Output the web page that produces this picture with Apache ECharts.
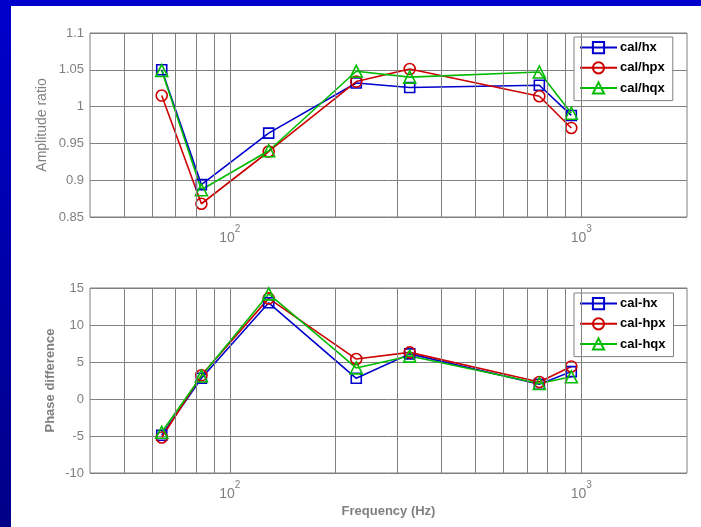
<!DOCTYPE html>
<html>
<head>
<meta charset="utf-8">
<script src="https://cdn.jsdelivr.net/npm/echarts@6/dist/echarts.min.js"></script>
<style>
html,body{margin:0;padding:0;background:#fff;}
#c{width:701px;height:527px;}
</style>
</head>
<body>
<div id="c"></div>
<script>
// ---- data ----
var freq = [64, 83, 129, 229, 325, 760, 937];
var ampNames = ['cal/hx', 'cal/hpx', 'cal/hqx'];
var phaseNames = ['cal-hx', 'cal-hpx', 'cal-hqx'];
var ampHx  = [1.050, 0.894, 0.964, 1.032, 1.026, 1.029, 0.988];
var ampHpx = [1.015, 0.868, 0.939, 1.034, 1.051, 1.014, 0.971];
var ampHqx = [1.049, 0.887, 0.940, 1.048, 1.040, 1.047, 0.991];
var phHx  = [-4.9, 2.8, 13.0, 2.8, 6.1, 2.0, 3.7];
var phHpx = [-5.2, 3.2, 13.6, 5.4, 6.3, 2.3, 4.4];
var phHqx = [-4.5, 3.1, 14.2, 4.2, 5.8, 2.1, 3.0];
var xGridTicks = [50, 60, 70, 80, 90, 100, 200, 300, 400, 500, 600, 700, 800, 900, 1000];
var ampTicks = {min: 0.85, max: 1.1, interval: 0.05};
var phTicks = {min: -10, max: 15, interval: 5};

var colors = ['#0000cc', '#cc0000', '#00bb00'];
var symbols = ['rect', 'circle', 'triangle'];
var symSizes = [10, 11, 12];
var GRAY = '#808080';
var FONT = '"Liberation Sans", Arial, sans-serif';

function pairs(xs, ys) { return xs.map(function (x, i) { return [x, ys[i]]; }); }

function gridMarkLine() {
  return {
    silent: true, symbol: 'none', animation: false,
    label: {show: false},
    lineStyle: {color: GRAY, width: 1, type: 'solid'},
    data: xGridTicks.map(function (v) { return {xAxis: v}; })
  };
}

function mkSeries(name, ys, k, axisIdx, withGrid) {
  var s = {
    name: name, type: 'line', xAxisIndex: axisIdx, yAxisIndex: axisIdx,
    data: pairs(freq, ys),
    symbol: symbols[k], symbolSize: symSizes[k], showSymbol: true,
    lineStyle: {color: colors[k], width: 1.6},
    itemStyle: {color: 'rgba(255,255,255,0)', borderColor: colors[k], borderWidth: 1.6},
    animation: false, z: 3
  };
  if (withGrid) s.markLine = gridMarkLine();
  return s;
}

function xAxisDef(idx) {
  return {
    type: 'log', logBase: 10, gridIndex: idx, min: 40, max: 2000,
    axisLine: {show: false}, axisTick: {show: false}, splitLine: {show: false},
    axisLabel: {
      margin: 7, color: GRAY, fontFamily: FONT,
      formatter: function (v) {
        var e = Math.log10(v);
        if (Math.abs(e - Math.round(e)) < 1e-6) return '{b|10}{s|' + Math.round(e) + '}';
        return '';
      },
      rich: {
        b: {fontSize: 14, color: GRAY, fontFamily: FONT, lineHeight: 28},
        s: {fontSize: 10, color: GRAY, fontFamily: FONT, verticalAlign: 'top', lineHeight: 9}
      }
    }
  };
}

function yAxisDef(idx, t, name, gap, bold) {
  return {
    type: 'value', gridIndex: idx, min: t.min, max: t.max, interval: t.interval,
    axisLine: {show: false}, axisTick: {show: false},
    splitLine: {show: true, lineStyle: {color: GRAY, width: 1}},
    axisLabel: {color: GRAY, fontSize: 13, fontFamily: FONT, margin: 6},
    name: name, nameLocation: 'middle', nameGap: gap, nameMoveOverlap: false,
    nameTextStyle: {color: GRAY, fontSize: bold ? 13 : 14, fontWeight: bold ? 'bold' : 'normal', fontFamily: FONT}
  };
}

function legendDef(names, top) {
  return {
    data: names, orient: 'vertical', left: 574, top: top,
    itemWidth: 37, itemHeight: 14, itemGap: 7,
    padding: [4, 8, 6, 5],
    backgroundColor: '#fff', borderColor: GRAY, borderWidth: 1, borderRadius: 0,
    textStyle: {color: '#000', fontSize: 13, fontWeight: 'bold', fontFamily: FONT, padding: [0, 0, 0, -2]},
    selectedMode: false
  };
}

var chart = echarts.init(document.getElementById('c'), null, {renderer: 'canvas'});
var xa0 = xAxisDef(0), xa1 = xAxisDef(1);
xa1.name = 'Frequency (Hz)';
xa1.nameLocation = 'middle';
xa1.nameGap = 32;
xa1.nameMoveOverlap = false;
xa1.nameTextStyle = {color: GRAY, fontSize: 13, fontWeight: 'bold', fontFamily: FONT};

chart.setOption({
  backgroundColor: '#fff',
  animation: false,
  graphic: [
    {type: 'rect', left: 0, top: 0, shape: {width: 701, height: 6}, style: {fill: '#0000cc'}, z: 100},
    {type: 'rect', left: 0, top: 0, shape: {width: 11, height: 527},
      style: {fill: new echarts.graphic.LinearGradient(0, 0, 0, 1, [{offset: 0, color: '#0000cc'}, {offset: 1, color: '#000088'}])}, z: 100}
  ],
  grid: [
    {left: 90, top: 33, right: 14, height: 184, show: true, borderColor: GRAY, borderWidth: 1, backgroundColor: 'rgba(0,0,0,0)'},
    {left: 90, top: 288, right: 14, height: 185, show: true, borderColor: GRAY, borderWidth: 1, backgroundColor: 'rgba(0,0,0,0)'}
  ],
  xAxis: [xa0, xa1],
  yAxis: [
    yAxisDef(0, ampTicks, 'Amplitude ratio', 41, false),
    yAxisDef(1, phTicks, 'Phase difference', 33, true)
  ],
  legend: [legendDef(ampNames, 37), legendDef(phaseNames, 293)],
  series: [
    mkSeries(ampNames[0], ampHx, 0, 0, true),
    mkSeries(ampNames[1], ampHpx, 1, 0, false),
    mkSeries(ampNames[2], ampHqx, 2, 0, false),
    mkSeries(phaseNames[0], phHx, 0, 1, true),
    mkSeries(phaseNames[1], phHpx, 1, 1, false),
    mkSeries(phaseNames[2], phHqx, 2, 1, false)
  ]
});
</script>
</body>
</html>
